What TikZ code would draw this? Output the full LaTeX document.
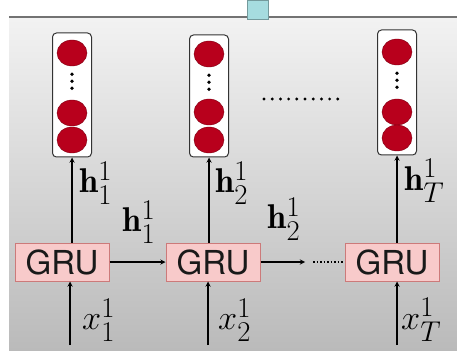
\documentclass[tikz,border=0pt]{standalone}
\usepackage{fontspec}
\usepackage{amsmath}
\usepackage{graphicx}
\usetikzlibrary{shapes.geometric}
\newfontfamily\grufont{TeX Gyre Heros}
\newcommand\biglbl[1]{\scalebox{1.38}{$#1$}}
\definecolor{grufill}{HTML}{F8CACA}
\definecolor{grudraw}{HTML}{CC7A7A}
\definecolor{unitred}{HTML}{B8001C}
\definecolor{capcyan}{HTML}{A6DCDF}
\tikzset{
  grubox/.style={draw=grudraw,fill=grufill,line width=1pt,minimum width=94pt,
    minimum height=38pt,inner sep=0pt,text=black!90,font=\grufont\fontsize{33}{36}\selectfont},
  vecbox/.style={draw=black!80,fill=white,rounded corners=4pt,line width=1pt,
    minimum width=39pt,inner sep=0pt},
  unit/.style={ellipse,fill=unitred,draw=unitred!70!black,inner sep=0pt,
    minimum width=30pt,minimum height=26pt},
  lbl/.style={font=\Huge,inner sep=0pt},
  flow/.style={->,line width=1.3pt}
}
\begin{document}
\begin{tikzpicture}[x=1pt,y=-1pt,>=stealth]
  \useasboundingbox (0,0) rectangle (457,358);
  % 背景
  \shade[top color=black!5,bottom color=black!27] (9,17) rectangle (457,350);
  \draw[black!55,line width=1.2pt] (9,17) -- (457,17);
  \filldraw[fill=capcyan,draw=capcyan!70!black] (247,0) rectangle (268,19);

  % 向量框
  \node[vecbox,minimum height=124pt] (v1) at (72,95) {};
  \node[vecbox,minimum height=122pt] (v2) at (209,96) {};
  \node[vecbox,minimum height=125pt] (v3) at (397,92.5) {};

  % 单元
  \foreach \v/\ya/\yb/\yc in {v1/53/113/140, v2/54/112/140, v3/52/112/138} {
    \node[unit] (\v a) at (\v.center |- 0,\ya) {};
    \node[unit] (\v b) at (\v.center |- 0,\yb) {};
    \node[unit] (\v c) at (\v.center |- 0,\yc) {};
    \foreach \d in {0,7,14}
      \fill (\v a.south) ++(0,8+\d) circle(1.9);
  }
  \foreach \i in {0,...,9}
    \fill (264+\i*8.2,99) circle(1.6);

  % GRU
  \node[grubox] (g1) at (62,262) {GRU};
  \node[grubox] (g2) at (213,262) {GRU};
  \node[grubox] (g3) at (392,262) {GRU};

  % 竖直箭头
  \draw[flow] (g1.north -| v1.south) -- (v1.south);
  \draw[flow] (g2.north -| v2.south) -- (v2.south);
  \draw[flow] (g3.north -| v3.south) -- (v3.south);

  % 水平箭头
  \coordinate (e2) at (305,262);
  \draw[flow] (g1.east) -- (g2.west);
  \draw[flow] (g2.east) -- (e2);
  \draw[dotted,line width=1.5pt] (313,262) -- (g3.west);

  % 输入
  \coordinate (i1) at (70,345);
  \coordinate (i2) at (208,345);
  \coordinate (i3) at (397,345);
  \draw[flow] (i1) -- (i1 |- g1.south);
  \draw[flow] (i2) -- (i2 |- g2.south);
  \draw[flow] (i3) -- (i3 |- g3.south);

  % 标签
  \node[lbl,anchor=west] (lh1) at (79,183) {\biglbl{\mathbf{h}_1^1}};
  \node[lbl,anchor=west] (lh2) at (215,183) {\biglbl{\mathbf{h}_2^1}};
  \node[lbl,anchor=west] (lh3) at (404,181) {\biglbl{\mathbf{h}_T^1}};
  \node[lbl] (lr1) at (139,222) {\biglbl{\mathbf{h}_1^1}};
  \node[lbl] (lr2) at (284,219) {\biglbl{\mathbf{h}_2^1}};
  \node[lbl,anchor=west] (lx1) at (82,320) {\biglbl{x_1^1}};
  \node[lbl,anchor=west] (lx2) at (218,320) {\biglbl{x_2^1}};
  \node[lbl,anchor=west] (lx3) at (401,320) {\biglbl{x_T^1}};
\end{tikzpicture}
\end{document}
